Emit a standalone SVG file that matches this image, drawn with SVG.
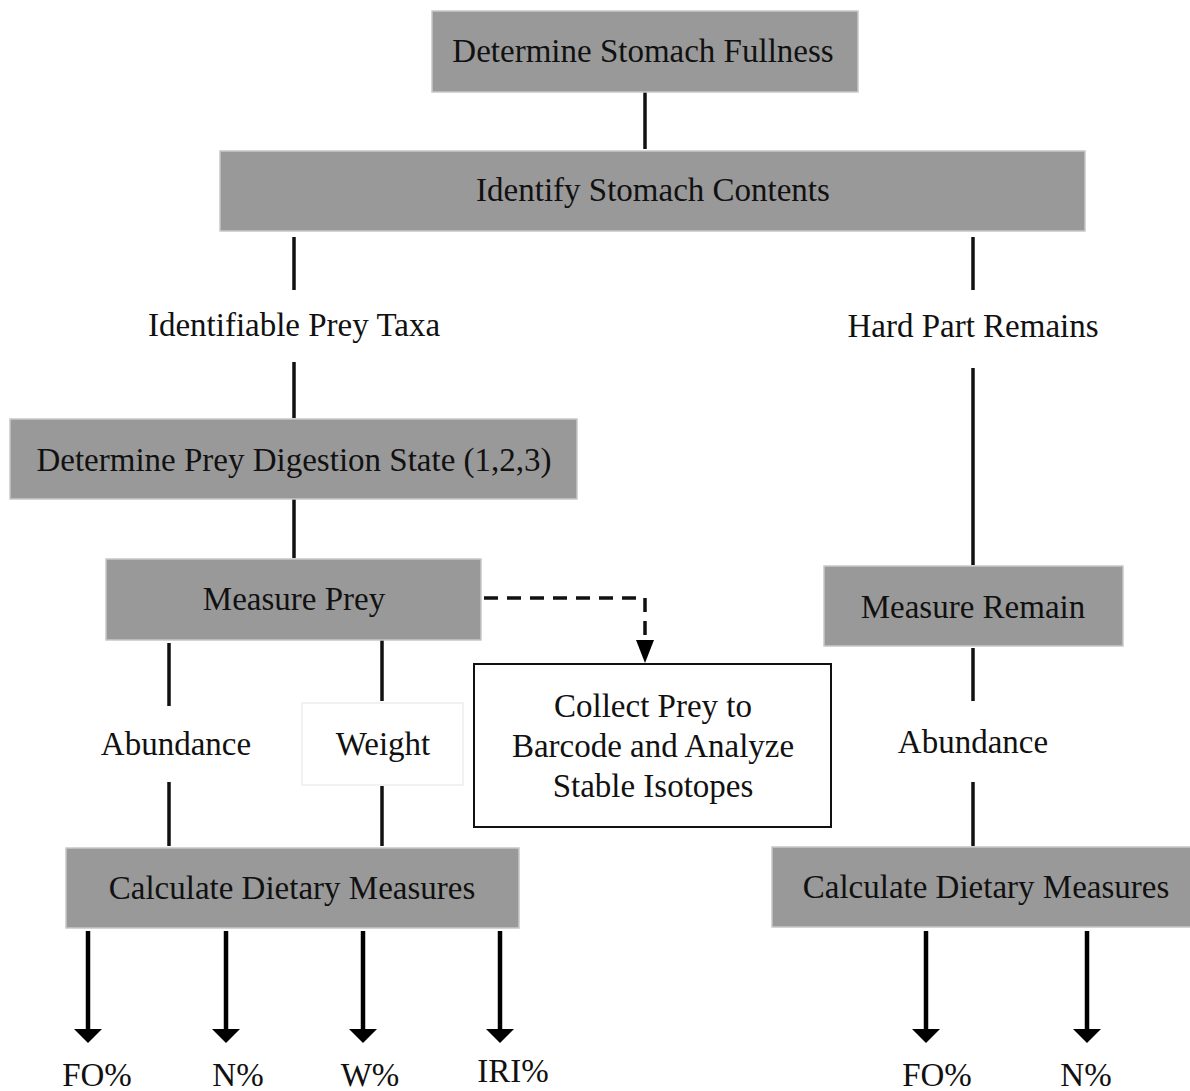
<svg xmlns="http://www.w3.org/2000/svg" width="1190" height="1091" viewBox="0 0 1190 1091">
<defs>
<style>
.box{fill:#999999;stroke:#c8c8c8;stroke-width:1.5}
.t{font-family:"Liberation Serif","Times New Roman",serif;font-size:33px;fill:#111;text-anchor:middle}
.ln{stroke:#111;stroke-width:3.5;fill:none}
.ar{stroke:#000;stroke-width:4.5;fill:none}
</style>
</defs>
<rect width="1190" height="1091" fill="#fff"/>
<g id="connectors">
<line class="ln" x1="645" y1="92" x2="645" y2="149"/>
<line class="ln" x1="294" y1="237" x2="294" y2="290"/>
<line class="ln" x1="294" y1="362" x2="294" y2="418"/>
<line class="ln" x1="294" y1="499" x2="294" y2="558"/>
<line class="ln" x1="973" y1="237" x2="973" y2="290"/>
<line class="ln" x1="973" y1="368" x2="973" y2="565"/>
<line class="ln" x1="973" y1="648" x2="973" y2="701"/>
<line class="ln" x1="973" y1="782" x2="973" y2="846"/>
<line class="ln" x1="169" y1="643" x2="169" y2="706"/>
<line class="ln" x1="169" y1="782" x2="169" y2="846"/>
<line class="ln" x1="382" y1="638" x2="382" y2="701"/>
<line class="ln" x1="382" y1="786" x2="382" y2="846"/>
<path class="ln" d="M484,598 H645 V642" stroke-dasharray="14,9"/>
<path d="M636,640 L654,640 L645,663 Z" fill="#000"/>
<line class="ar" x1="88" y1="931" x2="88" y2="1032"/>
<path d="M74,1029 L102,1029 L88,1043 Z" fill="#000"/>
<line class="ar" x1="226" y1="931" x2="226" y2="1032"/>
<path d="M212,1029 L240,1029 L226,1043 Z" fill="#000"/>
<line class="ar" x1="363" y1="931" x2="363" y2="1032"/>
<path d="M349,1029 L377,1029 L363,1043 Z" fill="#000"/>
<line class="ar" x1="500" y1="931" x2="500" y2="1032"/>
<path d="M486,1029 L514,1029 L500,1043 Z" fill="#000"/>
<line class="ar" x1="926" y1="931" x2="926" y2="1032"/>
<path d="M912,1029 L940,1029 L926,1043 Z" fill="#000"/>
<line class="ar" x1="1087" y1="931" x2="1087" y2="1032"/>
<path d="M1073,1029 L1101,1029 L1087,1043 Z" fill="#000"/>
</g>
<g id="n-fullness">
<rect class="box" x="432" y="11" width="426" height="81"/>
<text class="t" x="643" y="62">Determine Stomach Fullness</text>
</g>
<g id="n-identify">
<rect class="box" x="220" y="151" width="865" height="80"/>
<text class="t" x="653" y="201">Identify Stomach Contents</text>
</g>
<g id="n-taxa">
<text class="t" x="294" y="336">Identifiable Prey Taxa</text>
</g>
<g id="n-hard">
<text class="t" x="973" y="337">Hard Part Remains</text>
</g>
<g id="n-digestion">
<rect class="box" x="10" y="419" width="567" height="80"/>
<text class="t" x="294" y="471">Determine Prey Digestion State (1,2,3)</text>
</g>
<g id="n-measure-prey">
<rect class="box" x="106" y="559" width="375" height="81"/>
<text class="t" x="294" y="610">Measure Prey</text>
</g>
<g id="n-collect">
<rect x="474" y="664" width="357" height="163" fill="#fff" stroke="#111" stroke-width="2"/>
<text class="t" x="653" y="717">Collect Prey to</text>
<text class="t" x="653" y="757">Barcode and Analyze</text>
<text class="t" x="653" y="797">Stable Isotopes</text>
</g>
<g id="n-measure-remain">
<rect class="box" x="824" y="566" width="299" height="80"/>
<text class="t" x="973" y="618">Measure Remain</text>
</g>
<g id="n-abundance-l">
<text class="t" x="176" y="755">Abundance</text>
</g>
<g id="n-weight">
<rect x="302" y="703" width="161" height="82" fill="#fff" stroke="#e4e4e4" stroke-width="1"/>
<text class="t" x="383" y="755">Weight</text>
</g>
<g id="n-abundance-r">
<text class="t" x="973" y="753">Abundance</text>
</g>
<g id="n-calc-l">
<rect class="box" x="66" y="848" width="453" height="80"/>
<text class="t" x="292" y="899">Calculate Dietary Measures</text>
</g>
<g id="n-calc-r">
<rect class="box" x="772" y="847" width="420" height="80"/>
<text class="t" x="986" y="898">Calculate Dietary Measures</text>
</g>
<g id="n-outputs">
<text class="t" x="97" y="1086">FO%</text>
<text class="t" x="238" y="1086">N%</text>
<text class="t" x="370" y="1086">W%</text>
<text class="t" x="513" y="1082">IRI%</text>
<text class="t" x="937" y="1086">FO%</text>
<text class="t" x="1086" y="1086">N%</text>
</g>
</svg>
